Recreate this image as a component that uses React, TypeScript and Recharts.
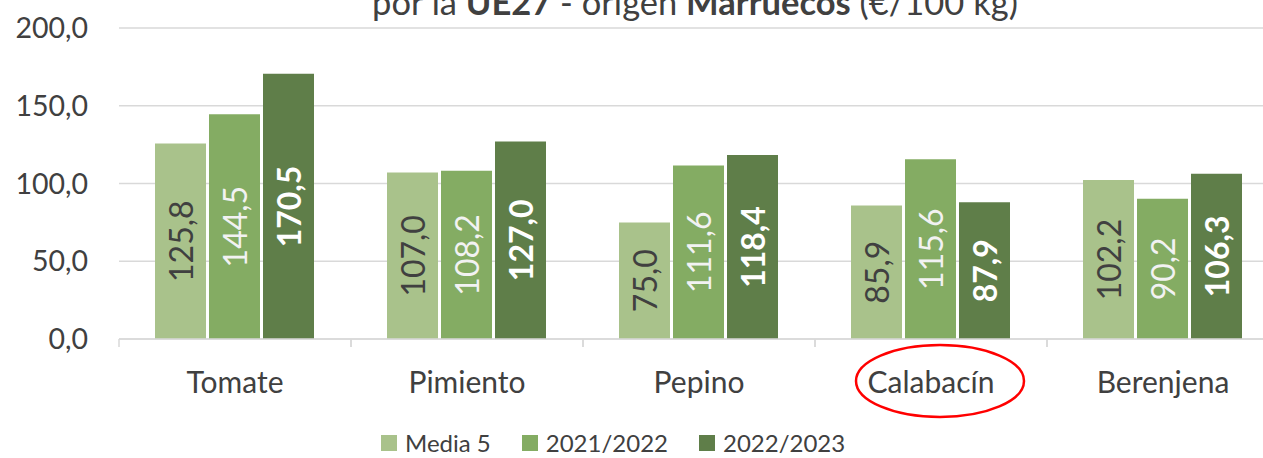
import React from 'react';
import { BarChart, Bar, XAxis, YAxis, CartesianGrid, Legend, LabelList, Customized } from 'recharts';

const categories = ['Tomate', 'Pimiento', 'Pepino', 'Calabacín', 'Berenjena'];
const media5 = [125.8, 107.0, 75.0, 85.9, 102.2];
const y2122 = [144.5, 108.2, 111.6, 115.6, 90.2];
const y2223 = [170.5, 127.0, 118.4, 87.9, 106.3];
const yTicks = [0, 50, 100, 150, 200];
const highlighted = 'Calabacín';

const data = categories.map((c, i) => ({ name: c, media5: media5[i], y2122: y2122[i], y2223: y2223[i] }));

const CHART_W = 1300;
const CHART_H = 458;
const MARGIN = { top: 28, right: 21, left: 0, bottom: 0 };
const Y_W = 119;
const BAND = (CHART_W - MARGIN.left - MARGIN.right - Y_W) / categories.length;
const FONT = 'Lato, "Open Sans", sans-serif';
const TEXT = '#404040';
const GRID = '#d9d9d9';

const series = [
  { key: 'media5', name: 'Media 5', color: '#a9c28b', label: '#404040', weight: 400 },
  { key: 'y2122', name: '2021/2022', color: '#84ac63', label: '#f2f2f2', weight: 400 },
  { key: 'y2223', name: '2022/2023', color: '#5f7e49', label: '#ffffff', weight: 700 },
];

const fmt = (v: number) => v.toFixed(1).replace('.', ',');

const makeLabel = (color: string, weight: number) => (props: any) => {
  const { x, y, width, height, value } = props;
  const cx = x + width / 2;
  const cy = y + height / 2;
  return (
    <text x={cx} y={cy} transform={`rotate(-90, ${cx}, ${cy})`} textAnchor="middle" dominantBaseline="central"
      fill={color} fontSize={32} fontWeight={weight} fontFamily={FONT}>
      {fmt(Number(value))}
    </text>
  );
};

const XTick = (props: any) => {
  const { x, y, payload } = props;
  return (
    <g>
      <line x1={x - BAND / 2} x2={x - BAND / 2} y1={y} y2={y + 8} stroke={GRID} strokeWidth={1.5} />
      <line x1={x + BAND / 2} x2={x + BAND / 2} y1={y} y2={y + 8} stroke={GRID} strokeWidth={1.5} />
      <text x={x} y={y + 42} textAnchor="middle" dominantBaseline="central" fill={TEXT} fontSize={30} fontFamily={FONT}>
        {payload.value}
      </text>
      {payload.value === highlighted && (
        <ellipse cx={x + 9} cy={y + 42} rx={84} ry={36} fill="none" stroke="#ff0000" strokeWidth={2.5} />
      )}
    </g>
  );
};

const Title = () => (
  <text x={695} y={15} textAnchor="middle" fill={TEXT} fontSize={34.5} fontFamily={FONT}>
    <tspan>por la </tspan>
    <tspan fontWeight={700}>UE27</tspan>
    <tspan> - origen </tspan>
    <tspan fontWeight={700}>Marruecos</tspan>
    <tspan> (€/100 kg)</tspan>
  </text>
);

const LegendContent = () => (
  <div style={{ display: 'flex', alignItems: 'center', paddingLeft: 381, paddingTop: 20, fontFamily: FONT, fontSize: 24, color: TEXT, lineHeight: '28px' }}>
    {series.map((s) => (
      <div key={s.key} style={{ display: 'flex', alignItems: 'center', marginRight: 31 }}>
        <span style={{ display: 'inline-block', width: 16, height: 16, background: s.color, marginRight: 8 }} />
        <span>{s.name}</span>
      </div>
    ))}
  </div>
);

export default function App() {
  return (
    <div style={{ position: 'fixed', left: 0, top: 0, width: 1263, height: 458, overflow: 'hidden', background: '#fff', fontFamily: FONT }}>
      <BarChart width={CHART_W} height={CHART_H} data={data} margin={MARGIN} barCategoryGap={36} barGap={3}>
        <CartesianGrid vertical={false} stroke={GRID} strokeWidth={1.5} />
        <XAxis dataKey="name" height={70} tickLine={false} tickSize={0} tickMargin={0} axisLine={{ stroke: GRID, strokeWidth: 1.5 }} tick={<XTick />} interval={0} />
        <YAxis width={Y_W} domain={[0, 200]} ticks={yTicks} axisLine={false} tickLine={false} tickSize={0} tickMargin={31}
          tickFormatter={fmt} tick={{ fill: TEXT, fontSize: 28.5, fontFamily: FONT }} />
        <Legend verticalAlign="bottom" height={49} wrapperStyle={{ left: 0, width: CHART_W }} content={<LegendContent />} />
        {series.map((s) => (
          <Bar key={s.key} dataKey={s.key} name={s.name} fill={s.color} isAnimationActive={false}>
            <LabelList dataKey={s.key} content={makeLabel(s.label, s.weight)} />
          </Bar>
        ))}
        <Customized component={Title} />
      </BarChart>
    </div>
  );
}
